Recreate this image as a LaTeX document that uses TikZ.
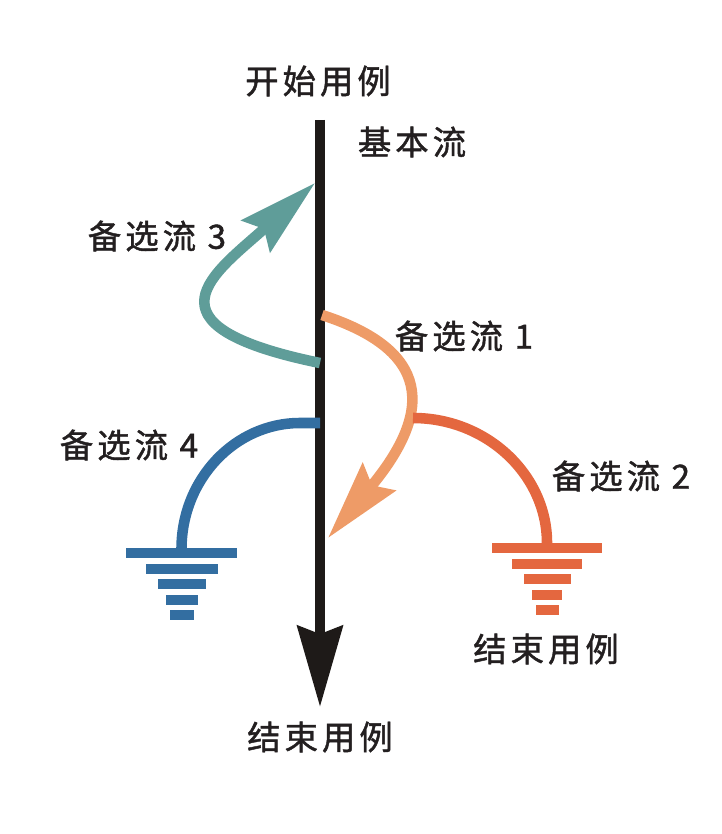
\documentclass[tikz,border=0pt]{standalone}
\usepackage{fontspec}
\setmainfont{Noto Sans CJK SC}[LetterSpace=12,FakeBold=1.3]
\usetikzlibrary{arrows.meta}
\definecolor{txtgray}{RGB}{35,31,32}
\definecolor{mainblack}{RGB}{30,26,24}
\definecolor{flowteal}{RGB}{95,157,153}
\definecolor{flowpeach}{RGB}{238,155,103}
\definecolor{flowred}{RGB}{228,103,63}
\definecolor{flowblue}{RGB}{51,110,161}
\tikzset{lbl/.style={font=\fontsize{19pt}{21pt}\selectfont,text=txtgray,inner sep=0pt}}
\tikzset{flow/.style={line width=6pt}}
\tikzset{flowarrow/.style={flow,-{Stealth[length=45pt,width=24pt,inset=6pt]}}}
\tikzset{mainflow/.style={line width=5.9pt,mainblack,-{Stealth[length=46pt,width=25.5pt,inset=4.5pt]}}}

\begin{document}
\begin{tikzpicture}[x=0.02cm,y=-0.02cm]
      \useasboundingbox (0,0) rectangle (722,834);
      \coordinate (top) at (320,120);
      \coordinate (bottom) at (320,707);
      \node [lbl] (startcase) at (318,81) {开始用例};
      \node [lbl] (basic) at (412,142) {基本流};
      \node [lbl] (endcase) at (320,737) {结束用例};
      \draw [mainflow] (top) -- (bottom);
      \coordinate (a3from) at (320,363);
      \coordinate (a3to) at (315,183);
      \draw [flowarrow,flowteal] (a3from) .. controls (135,325) and (215,273) .. (a3to);
      \node [lbl] (alt3) at (157,236) {备选流 3};
      \coordinate (a1from) at (322,315);
      \coordinate (a1to) at (328,538);
      \draw [flowarrow,flowpeach] (a1from) .. controls (430,350) and (435,410) .. (a1to);
      \node [lbl] (alt1) at (464,336) {备选流 1};
      \coordinate (a2from) at (413,418);
      \coordinate (gnd2) at (547,543);
      \draw [flow,flowred] (a2from) .. controls (487,418) and (547,475) .. (gnd2);
      \node [lbl] (alt2) at (621,476) {备选流 2};
      \node [lbl] (endcase2) at (546,649) {结束用例};
      \begin{scope}[shift={(gnd2)}]
        \foreach \w [count=\i from 0] in {110,70,47,30,23}
          \fill [flowred] (-\w/2,\i*15.5) rectangle ++(\w,10);
      \end{scope}
      \coordinate (a4from) at (320,423);
      \coordinate (gnd4) at (181.5,548);
      \draw [flow,flowblue] (a4from) -- (300,423) .. controls (235,423) and (182,479) .. (gnd4);
      \node [lbl] (alt4) at (129,445) {备选流 4};
      \begin{scope}[shift={(gnd4)}]
        \foreach \w [count=\i from 0] in {111,72,48,32,24}
          \fill [flowblue] (-\w/2,\i*15.5) rectangle ++(\w,10);
      \end{scope}
\end{tikzpicture}
\end{document}
